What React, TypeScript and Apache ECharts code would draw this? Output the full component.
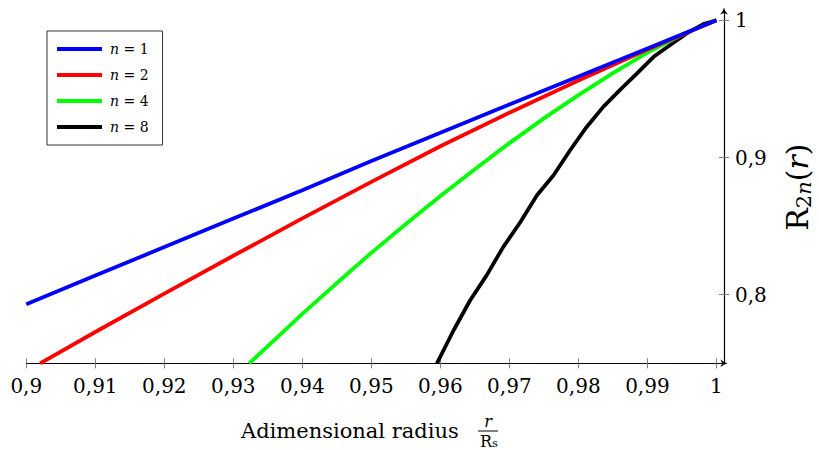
import React, { useEffect, useRef } from "react";
import * as echarts from "echarts";

const xTicks = [0.9, 0.91, 0.92, 0.93, 0.94, 0.95, 0.96, 0.97, 0.98, 0.99, 1.0];
const yTicks = [0.8, 0.9, 1.0];

const blueX = [0.9, 0.91, 0.92, 0.93, 0.94, 0.95, 0.96, 0.97, 0.98, 0.99, 1.0];
const blueY = [0.793, 0.814, 0.8347, 0.8555, 0.8761, 0.8975, 0.918, 0.9387, 0.959, 0.9795, 1.0];

const redX = [0.902, 0.91, 0.92, 0.93, 0.94, 0.95, 0.96, 0.97, 0.98, 0.99, 1.0];
const redY = [0.75, 0.7728, 0.8008, 0.8284, 0.8556, 0.8822, 0.9082, 0.9327, 0.9562, 0.9787, 1.0];

const greenX = [0.9323, 0.935, 0.94, 0.945, 0.95, 0.955, 0.96, 0.965, 0.97, 0.975, 0.98, 0.985, 0.99, 0.995, 1.0];
const greenY = [0.75, 0.7625, 0.786, 0.8085, 0.8305, 0.8515, 0.872, 0.8915, 0.9105, 0.9285, 0.9455, 0.9615, 0.9765, 0.9895, 1.0];

const blackX = [0.9595, 0.9619, 0.9643, 0.9667, 0.9691, 0.9716, 0.974, 0.9764, 0.9788, 0.9812, 0.9836, 0.986, 0.9885, 0.9909, 0.9933, 0.9957, 0.9981, 1.0];
const blackY = [0.75, 0.7739, 0.7958, 0.8141, 0.8347, 0.853, 0.8725, 0.8871, 0.9053, 0.9223, 0.9369, 0.9491, 0.9613, 0.9734, 0.982, 0.9905, 0.9973, 1.0];

const seriesNames = ["n = 1", "n = 2", "n = 4", "n = 8"];
const seriesColors = ["#0000ff", "#ff0000", "#00ff00", "#000000"];

const X_MIN = 0.9;
const X_MAX = 1.0011;
const Y_MIN = 0.75;
const Y_MAX = 1.0068;

const SERIF = "DejaVu Serif";
const ARROW = "path://M5,0 Q6,5 10,9 Q6,7 5,7 Q4,7 0,9 Q4,5 5,0 Z";

const fmt = (v: number) => String(Number(v.toFixed(4))).replace(".", ",");
const zip = (xs: number[], ys: number[]) => xs.map((x, i) => [x, ys[i]]);

export default function App() {
  const ref = useRef<HTMLDivElement>(null);
  useEffect(() => {
    if (!ref.current) return;
    const chart = echarts.init(ref.current, null, { renderer: "svg" });
    const datasets = [zip(blueX, blueY), zip(redX, redY), zip(greenX, greenY), zip(blackX, blackY)];
    const tickStyle = { color: "#808080", width: 1 };
    const option: any = {
      animation: false,
      backgroundColor: "#ffffff",
      grid: { left: 26.3, right: 95, top: 11, bottom: 86.7, containLabel: false, outerBoundsMode: "none" },
      legend: {
        orient: "vertical",
        left: 47,
        top: 31,
        icon: "rect",
        itemWidth: 45,
        itemHeight: 4,
        itemGap: 10,
        padding: [10, 14, 10, 10],
        borderColor: "#333",
        borderWidth: 1,
        data: seriesNames,
        formatter: (name: string) => "{i|n}{t|" + name.slice(1) + "}",
        textStyle: {
          fontFamily: SERIF,
          fontSize: 14,
          lineHeight: 16,
          color: "#000",
          padding: [0, 0, 0, 3],
          rich: {
            i: { fontFamily: SERIF, fontStyle: "italic", fontSize: 14, color: "#000" },
            t: { fontFamily: SERIF, fontSize: 14, color: "#000" },
          },
        },
      },
      xAxis: [
        {
          type: "value",
          min: X_MIN,
          max: X_MAX,
          position: "bottom",
          axisLine: { show: true, lineStyle: { color: "#000", width: 1.2 }, symbol: ["none", ARROW], symbolSize: [8, 8] },
          axisTick: { show: true, length: 5, lineStyle: tickStyle, customValues: xTicks },
          axisLabel: {
            customValues: xTicks,
            formatter: fmt,
            fontFamily: SERIF,
            fontSize: 20,
            color: "#000",
            margin: 13,
          },
          splitLine: { show: false },
        },
        {
          type: "value",
          min: X_MIN,
          max: X_MAX,
          position: "bottom",
          axisLine: { show: false },
          axisTick: { show: true, inside: true, length: 5, lineStyle: tickStyle, customValues: xTicks },
          axisLabel: { show: false },
          splitLine: { show: false },
        },
      ],
      yAxis: [
        {
          type: "value",
          min: Y_MIN,
          max: Y_MAX,
          position: "right",
          axisLine: { show: true, lineStyle: { color: "#000", width: 1.2 }, symbol: ["none", ARROW], symbolSize: [8, 8] },
          axisTick: { show: true, length: 5, lineStyle: tickStyle, customValues: yTicks },
          axisLabel: {
            customValues: yTicks,
            formatter: fmt,
            fontFamily: SERIF,
            fontSize: 20,
            color: "#000",
            margin: 11,
          },
          splitLine: { show: false },
          name: "{R|R}{s|2}{si|n}{p|(}{ri|r}{p|)}",
          nameLocation: "middle",
          nameGap: 56,
          nameTextStyle: {
            fontFamily: SERIF,
            fontSize: 30,
            color: "#000",
            rich: {
              R: { fontFamily: SERIF, fontSize: 30, lineHeight: 34, color: "#000" },
              p: { fontFamily: SERIF, fontSize: 30, lineHeight: 34, color: "#000" },
              ri: { fontFamily: SERIF, fontSize: 30, lineHeight: 34, fontStyle: "italic", color: "#000" },
              s: { fontFamily: SERIF, fontSize: 21, lineHeight: 21, verticalAlign: "bottom", color: "#000" },
              si: { fontFamily: SERIF, fontSize: 21, lineHeight: 21, verticalAlign: "bottom", fontStyle: "italic", color: "#000" },
            },
          },
        },
        {
          type: "value",
          min: Y_MIN,
          max: Y_MAX,
          position: "right",
          axisLine: { show: false },
          axisTick: { show: true, inside: true, length: 5, lineStyle: tickStyle, customValues: yTicks },
          axisLabel: { show: false },
          splitLine: { show: false },
        },
      ],
      series: seriesNames.map((name, i) => ({
        name,
        type: "line",
        xAxisIndex: 0,
        yAxisIndex: 0,
        data: datasets[i],
        showSymbol: false,
        symbol: "none",
        color: seriesColors[i],
        lineStyle: { color: seriesColors[i], width: 3.8 },
        z: 2 + (3 - i),
      })),
      graphic: [
        {
          type: "text",
          x: 241,
          y: 431,
          style: { text: "Adimensional radius", fontFamily: SERIF, fontSize: 21, fill: "#000", align: "left", verticalAlign: "middle" },
        },
        {
          type: "text",
          x: 488,
          y: 421.5,
          style: { text: "r", fontFamily: SERIF, fontStyle: "italic", fontSize: 16, fill: "#000", align: "center", verticalAlign: "middle" },
        },
        {
          type: "line",
          shape: { x1: 478, y1: 431, x2: 498, y2: 431 },
          style: { stroke: "#000", lineWidth: 1 },
        },
        {
          type: "text",
          x: 486,
          y: 441,
          style: { text: "R", fontFamily: SERIF, fontSize: 16, fill: "#000", align: "center", verticalAlign: "middle" },
        },
        {
          type: "text",
          x: 495,
          y: 443.5,
          style: { text: "s", fontFamily: SERIF, fontSize: 11, fill: "#000", align: "center", verticalAlign: "middle" },
        },
      ],
    };
    chart.setOption(option);
    return () => chart.dispose();
  }, []);
  return <div ref={ref} style={{ position: "fixed", left: 0, top: 0, width: 819, height: 450 }} />;
}
